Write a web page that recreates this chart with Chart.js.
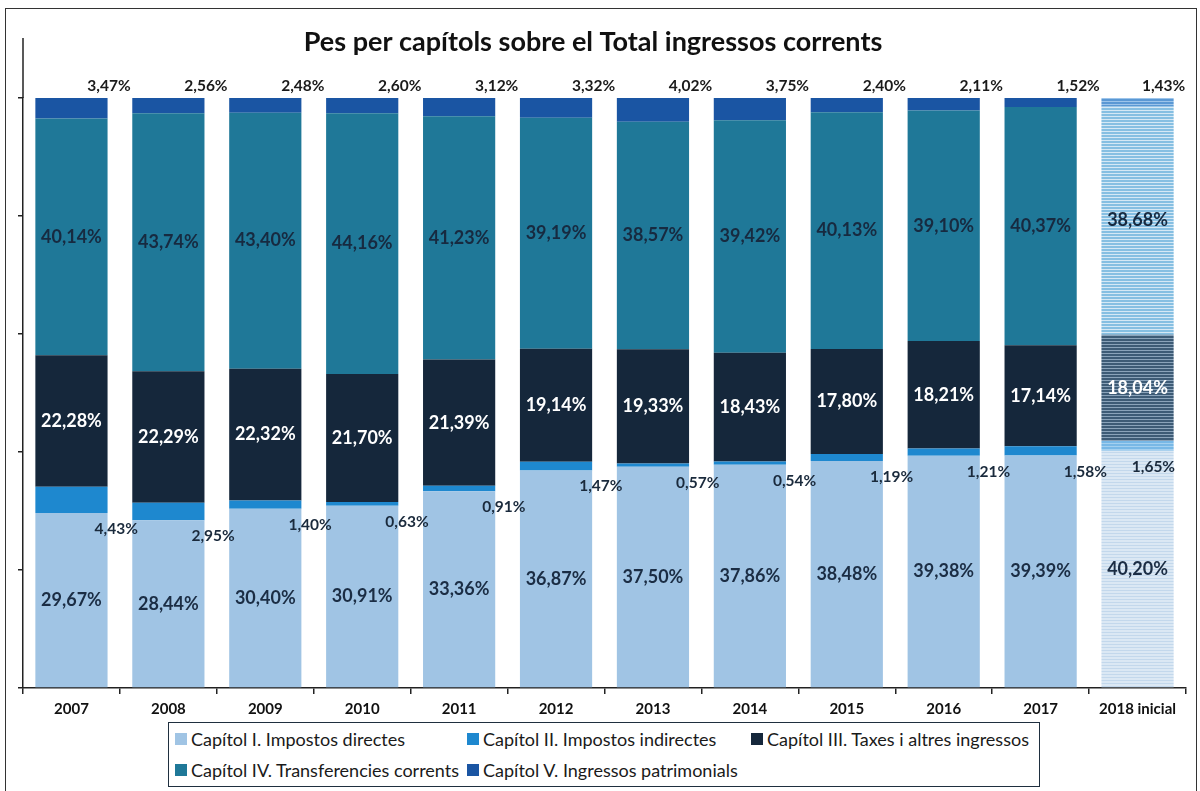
<!DOCTYPE html>
<html>
<head>
<meta charset="utf-8">
<script src="https://cdn.jsdelivr.net/npm/chart.js@4"></script>
<style>
    body { margin: 0; background: #fff; font-family: 'Lato', sans-serif; }
    #wrap { position: relative; width: 1200px; height: 791px; overflow: hidden; }
    #frame { position: absolute; left: 5px; top: 8px; width: 1192px; height: 800px; border: 1px solid #333; box-sizing: border-box; }
    #legend_chart { position: absolute; left: 168px; top: 722px; width: 872px; height: 65px; border: 1.5px solid #1f2f3f; box-sizing: border-box; background: #fff; }
</style>
</head>
<body>
<div id="wrap">
    <div id="frame"></div>
    <canvas id="chart_ingressos" width="1200" height="791" style="position:absolute;left:0;top:0"></canvas>
    <div id="legend_chart"></div>
</div>
<script>
const years = ['2007', '2008', '2009', '2010', '2011', '2012', '2013', '2014', '2015', '2016', '2017', '2018 inicial'];

const capI   = [29.67, 28.44, 30.40, 30.91, 33.36, 36.87, 37.50, 37.86, 38.48, 39.38, 39.39, 40.20];
const capII  = [4.43, 2.95, 1.40, 0.63, 0.91, 1.47, 0.57, 0.54, 1.19, 1.21, 1.58, 1.65];
const capIII = [22.28, 22.29, 22.32, 21.70, 21.39, 19.14, 19.33, 18.43, 17.80, 18.21, 17.14, 18.04];
const capIV  = [40.14, 43.74, 43.40, 44.16, 41.23, 39.19, 38.57, 39.42, 40.13, 39.10, 40.37, 38.68];
const capV   = [3.47, 2.56, 2.48, 2.60, 3.12, 3.32, 4.02, 3.75, 2.40, 2.11, 1.52, 1.43];

const yTicks = [0, 20, 40, 60, 80, 100];

Chart.defaults.font.family = 'Lato';

// striped fill for the "2018 inicial" bar
function stripes(base, line) {
    const c = document.createElement('canvas');
    c.width = 4;
    c.height = 3;
    const g = c.getContext('2d');
    g.fillStyle = base;
    g.fillRect(0, 0, 4, 3);
    g.fillStyle = line;
    g.fillRect(0, 2, 4, 1);
    return g.createPattern(c, 'repeat');
}

function colorsFor(main, lastPattern) {
    return years.map((y, i) => i === years.length - 1 ? lastPattern : main);
}

const fmt = v => v.toFixed(2).replace('.', ',') + '%';

const getOrCreateLegendList = (id) => {
    const legendContainer = document.getElementById(id);
    let listContainer = legendContainer.querySelector('ul');
    if (!listContainer) {
        listContainer = document.createElement('ul');
        listContainer.style.display = 'grid';
        listContainer.style.gridTemplateColumns = '292px 284px auto';
        listContainer.style.gridAutoRows = '31px';
        listContainer.style.margin = 0;
        listContainer.style.padding = '0 0 0 6px';
        listContainer.style.listStyle = 'none';
        legendContainer.appendChild(listContainer);
    }
    return listContainer;
};

const htmlLegendPlugin = {
    id: 'htmlLegend',
    afterUpdate(chart, args, options) {
        const ul = getOrCreateLegendList(options.containerID);
        while (ul.firstChild) {
            ul.firstChild.remove();
        }
        chart.data.datasets.forEach(ds => {
            const li = document.createElement('li');
            li.style.display = 'flex';
            li.style.alignItems = 'center';
            li.style.whiteSpace = 'nowrap';

            const box = document.createElement('span');
            box.style.display = 'inline-block';
            box.style.width = '12px';
            box.style.height = '12px';
            box.style.background = ds.legendColor;
            box.style.marginRight = '4px';
            box.style.flexShrink = 0;

            const txt = document.createElement('span');
            txt.style.fontSize = '18px';
            txt.style.color = '#1a1a1a';
            txt.textContent = ds.label;

            li.appendChild(box);
            li.appendChild(txt);
            ul.appendChild(li);
        });
    }
};

// value labels, placed like the original (Excel) chart
const barLabelsPlugin = {
    id: 'barLabels',
    afterDatasetsDraw(chart) {
        const ctx = chart.ctx;
        const area = chart.chartArea;
        ctx.save();
        ctx.textAlign = 'center';
        ctx.textBaseline = 'middle';

        chart.data.datasets.forEach((ds, di) => {
            const meta = chart.getDatasetMeta(di);
            meta.data.forEach((bar, i) => {
                const v = ds.data[i];
                const last = i === ds.data.length - 1;
                let x = bar.x;
                let y = (bar.y + bar.base) / 2;
                let color = '#1b2d44';
                ctx.font = 'bold 18px Lato';
                if (di === 1) {
                    ctx.font = 'bold 15.5px Lato';
                    x = bar.x + bar.width * (last ? 0.22 : 0.62);
                    y = bar.base + 16;
                    color = '#1a2a3c';
                } else if (di === 2) {
                    color = '#ffffff';
                } else if (di === 3) {
                    color = '#172a40';
                } else if (di === 4) {
                    ctx.font = 'bold 15.5px Lato';
                    x = bar.x + bar.width * (last ? 0.36 : 0.52);
                    y = bar.y - 12;
                    color = '#1a1a1a';
                }
                ctx.fillStyle = color;
                ctx.fillText(fmt(v), x, y);
            });
        });

        // left axis line runs up past the plot top
        ctx.strokeStyle = '#222';
        ctx.lineWidth = 1.5;
        ctx.beginPath();
        ctx.moveTo(area.left, area.top - 60);
        ctx.lineTo(area.left, area.top);
        ctx.stroke();
        ctx.restore();
    }
};

const datasets = [
    {
        label: 'Capítol I. Impostos directes',
        data: capI,
        backgroundColor: colorsFor('#a0c4e4', stripes('#dbe8f4', '#c3d8ec')),
        legendColor: '#a0c4e4'
    },
    {
        label: 'Capítol II. Impostos indirectes',
        data: capII,
        backgroundColor: colorsFor('#1e88cf', stripes('#78b8e6', '#a4d0ef')),
        legendColor: '#1e88cf'
    },
    {
        label: 'Capítol III. Taxes i altres ingressos',
        data: capIII,
        backgroundColor: colorsFor('#15273b', stripes('#3d5b76', '#8aa3ba')),
        legendColor: '#15273b'
    },
    {
        label: 'Capítol IV. Transferencies corrents',
        data: capIV,
        backgroundColor: colorsFor('#1f7898', stripes('#86bfe2', '#d5e8f5')),
        legendColor: '#1f7898'
    },
    {
        label: 'Capítol V. Ingressos patrimonials',
        data: capV,
        backgroundColor: colorsFor('#1a55a3', stripes('#5a98d4', '#9cc4ea')),
        legendColor: '#1a55a3'
    }
];

const ctx = document.getElementById('chart_ingressos').getContext('2d');

new Chart(ctx, {
    type: 'bar',
    data: {
        labels: years,
        datasets: datasets
    },
    plugins: [htmlLegendPlugin, barLabelsPlugin],
    options: {
        responsive: false,
        animation: false,
        layout: {
            padding: { left: 0, right: 14, top: 0, bottom: 0 }
        },
        datasets: {
            bar: {
                categoryPercentage: 1,
                barPercentage: 0.745,
                borderWidth: 0
            }
        },
        plugins: {
            htmlLegend: {
                containerID: 'legend_chart'
            },
            legend: { display: false },
            tooltip: { enabled: false },
            title: {
                display: true,
                text: 'Pes per capítols sobre el Total ingressos corrents',
                color: '#111',
                font: { size: 27, weight: 'bold' },
                padding: { top: 26, bottom: 39.6 }
            }
        },
        scales: {
            x: {
                stacked: true,
                afterFit: scale => { scale.height = 103; },
                border: { color: '#222', width: 1.5 },
                grid: {
                    drawOnChartArea: false,
                    tickLength: 6,
                    color: '#222',
                    lineWidth: 1.5
                },
                ticks: {
                    color: '#111',
                    padding: 6,
                    font: { size: 15, weight: 'bold' }
                }
            },
            y: {
                stacked: true,
                min: 0,
                max: 100,
                afterFit: scale => { scale.width = 23; },
                afterBuildTicks: scale => { scale.ticks = yTicks.map(v => ({ value: v })); },
                border: { color: '#222', width: 1.5 },
                grid: {
                    drawOnChartArea: false,
                    tickLength: 5,
                    color: '#222',
                    lineWidth: 1.5
                },
                ticks: { display: false }
            }
        }
    }
});
</script>
</body>
</html>
